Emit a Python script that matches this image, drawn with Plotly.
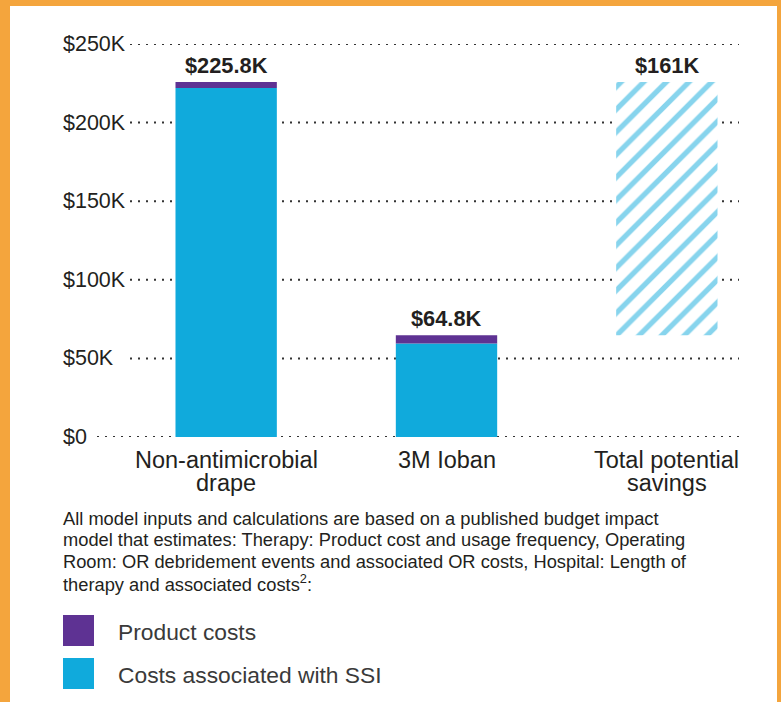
import plotly.graph_objects as go

# ---------------- data ----------------
categories = ["Non-antimicrobial<br>drape", "3M Ioban", "Total potential<br>savings"]
product_costs = [3.8, 5.3]          # $K (purple segment)
ssi_costs = [222.0, 59.5]           # $K (blue segment)
totals = [225.8, 64.8]              # $K (labels)
y_ticks = [0, 50, 100, 150, 200, 250]
y_tick_labels = ["$0", "$50K", "$100K", "$150K", "$200K", "$250K"]
series_names = ["Product costs", "Costs associated with SSI"]
note_lines = ["All model inputs and calculations are based on a published budget impact",
              "model that estimates: Therapy: Product cost and usage frequency, Operating",
              "Room: OR debridement events and associated OR costs, Hospital: Length of",
              "therapy and associated costs<sup>2</sup>:"]

savings = round(totals[0] - totals[1], 1)

# ---------------- style ----------------
BLUE = "#10AADC"
PURPLE = "#5E3293"
ORANGE = "#F4A53D"
TEXT = "#231F20"
FONT = "Liberation Sans, Arial, sans-serif"

W, H = 781, 702
L, R, T, B = 116, 4, 44, 265
PW, PH = W - L - R, H - T - B


def px_x(px):
    return (px - L) / PW


def px_y(py):
    return (H - B - py) / PH


fig = go.Figure()
fig.add_trace(go.Bar(x=categories[:2], y=ssi_costs, name=series_names[1],
                     marker=dict(color=BLUE, line=dict(width=0)), width=0.46))
fig.add_trace(go.Bar(x=categories[:2], y=product_costs, base=ssi_costs, name=series_names[0],
                     marker=dict(color=PURPLE, line=dict(width=0)), width=0.46))
fig.add_trace(go.Bar(x=[categories[2]], y=[savings], base=[totals[1]], name="Savings",
                     marker=dict(color=BLUE, line=dict(width=0),
                                 pattern=dict(shape="/", fgcolor=BLUE, bgcolor="white",
                                              size=16, solidity=0.33)),
                     width=0.46))

shapes = []
# orange frame strips (left, top, right)
for (x0, x1, y0, y1) in [(0, 10, 0, 702), (0, 781, 0, 6), (777, 781, 0, 702)]:
    shapes.append(dict(type="rect", xref="paper", yref="paper",
                       x0=px_x(x0), x1=px_x(x1), y0=px_y(y1), y1=px_y(y0),
                       fillcolor=ORANGE, line=dict(width=0), layer="above"))
# dotted grid lines
for v, lab in zip(y_ticks, y_tick_labels):
    start = 97 if len(lab) <= 2 else 130
    shapes.append(dict(type="line", xref="paper", yref="y",
                       x0=px_x(start), x1=px_x(739), y0=v, y1=v,
                       line=dict(color="#333333", width=2, dash="2px,6px"), layer="below"))
# legend swatches
for i, col in enumerate([PURPLE, BLUE]):
    top = 615 + i * 43
    shapes.append(dict(type="rect", xref="paper", yref="paper",
                       x0=px_x(63), x1=px_x(94), y0=px_y(top + 31), y1=px_y(top),
                       fillcolor=col, line=dict(width=0)))

annotations = []
# y tick labels (left aligned)
for v, lab in zip(y_ticks, y_tick_labels):
    annotations.append(dict(text=lab, xref="paper", yref="y", x=px_x(61), y=v,
                            xanchor="left", yanchor="middle", showarrow=False,
                            font=dict(family=FONT, size=21.5, color=TEXT)))
# category labels (two lines, tight spacing)
for cat in categories:
    for j, part in enumerate(cat.split("<br>")):
        annotations.append(dict(text=part, x=cat, xref="x", yref="paper",
                                y=px_y(460 + 23 * j), xanchor="center", yanchor="middle",
                                showarrow=False, font=dict(family=FONT, size=23.5, color=TEXT)))
# value labels
label_tops = [totals[0], totals[1], totals[0]]
label_vals = [totals[0], totals[1], savings]
for cat, top, val in zip(categories, label_tops, label_vals):
    annotations.append(dict(text=f"<b>${val:g}K</b>", x=cat, y=top, xref="x", yref="y",
                            xanchor="center", yanchor="bottom", yshift=2, showarrow=False,
                            font=dict(family=FONT, size=21.8, color=TEXT)))
# footnote
for i, line in enumerate(note_lines):
    annotations.append(dict(text=line, xref="paper", yref="paper", x=px_x(61),
                            y=px_y(518 + i * 21.7),
                            xanchor="left", yanchor="middle", align="left", showarrow=False,
                            font=dict(family=FONT, size=18.3, color=TEXT)))
# legend text
for i, name in enumerate(series_names):
    annotations.append(dict(text=name, xref="paper", yref="paper", x=px_x(116), y=px_y(632 + i * 43),
                            xanchor="left", yanchor="middle", showarrow=False,
                            font=dict(family=FONT, size=22.8, color="#3a3a3a")))

fig.update_layout(
    width=W, height=H, margin=dict(l=L, r=R, t=T, b=B, autoexpand=False),
    paper_bgcolor="white", plot_bgcolor="white",
    barmode="overlay", showlegend=False,
    font=dict(family=FONT, color=TEXT),
    shapes=shapes, annotations=annotations,
    xaxis=dict(showgrid=False, zeroline=False, showline=False, ticks="",
               showticklabels=False,
               categoryorder="array", categoryarray=categories, range=[-0.5, 2.5]),
    yaxis=dict(range=[0, 250], showgrid=False, zeroline=False, showline=False,
               showticklabels=False, ticks=""),
)

fig.write_html("out.html", config={"displayModeBar": False},
               post_script="document.body.style.margin='0';document.body.style.overflow='hidden';")
